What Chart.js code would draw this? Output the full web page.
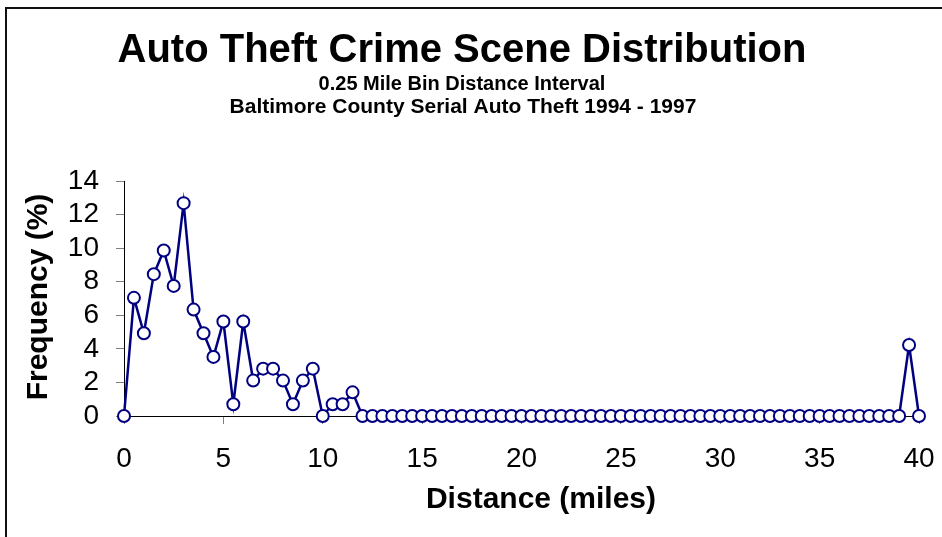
<!DOCTYPE html>
<html>
<head>
<meta charset="utf-8">
<title>Auto Theft Crime Scene Distribution</title>
<script src="https://cdn.jsdelivr.net/npm/chart.js@4"></script>
<style>
    html, body { margin: 0; padding: 0; background: #fff; overflow: hidden; }
    #wrap { position: relative; width: 942px; height: 537px; }
    #frame {
        position: absolute; left: 5px; top: 7px; width: 1000px; height: 600px;
        border-left: 2px solid #111; border-top: 2px solid #111;
    }
    #chart { position: absolute; left: 0; top: 0; }
</style>
</head>
<body>
<div id="wrap">
    <div id="frame"></div>
    <canvas id="chart" width="942" height="537"></canvas>
</div>
<script>
// distance of each bin (miles)
const distances = [
    0, 0.5, 1, 1.5, 2, 2.5, 3, 3.5, 4, 4.5, 5, 5.5, 6, 6.5, 7, 7.5, 8, 8.5, 9, 9.5,
    10, 10.5, 11, 11.5, 12, 12.5, 13, 13.5, 14, 14.5, 15, 15.5, 16, 16.5, 17, 17.5, 18, 18.5, 19, 19.5,
    20, 20.5, 21, 21.5, 22, 22.5, 23, 23.5, 24, 24.5, 25, 25.5, 26, 26.5, 27, 27.5, 28, 28.5, 29, 29.5,
    30, 30.5, 31, 31.5, 32, 32.5, 33, 33.5, 34, 34.5, 35, 35.5, 36, 36.5, 37, 37.5, 38, 38.5, 39, 39.5,
    40
];

// frequency (%) per bin
const frequency = [
    0, 7.04, 4.93, 8.45, 9.86, 7.75, 12.68, 6.34, 4.93, 3.52, 5.63, 0.70, 5.63, 2.11, 2.82, 2.82, 2.11, 0.70, 2.11, 2.82,
    0, 0.70, 0.70, 1.41, 0, 0, 0, 0, 0, 0, 0, 0, 0, 0, 0, 0, 0, 0, 0, 0,
    0, 0, 0, 0, 0, 0, 0, 0, 0, 0, 0, 0, 0, 0, 0, 0, 0, 0, 0, 0,
    0, 0, 0, 0, 0, 0, 0, 0, 0, 0, 0, 0, 0, 0, 0, 0, 0, 0, 0, 4.23,
    0
];

const xTicks = [0, 5, 10, 15, 20, 25, 30, 35, 40];
const yTicks = [0, 2, 4, 6, 8, 10, 12, 14];

const chartTitle = 'Auto Theft Crime Scene Distribution';
const subTitles = ['0.25 Mile Bin Distance Interval', 'Baltimore County Serial Auto Theft 1994 - 1997'];
const xTitle = 'Distance (miles)';
const yTitle = 'Frequency (%)';

const FONT = '"Liberation Sans", Arial, sans-serif';
const NAVY = '#000080';

// titles drawn by hand so they sit where the original has them
const textLayer = {
    id: 'textLayer',
    afterDraw(chart) {
        const ctx = chart.ctx;
        ctx.save();
        ctx.fillStyle = '#000';
        ctx.textAlign = 'center';
        ctx.textBaseline = 'alphabetic';

        ctx.font = 'bold 40px ' + FONT;
        ctx.fillText(chartTitle, 462, 62);

        ctx.font = 'bold 20px ' + FONT;
        ctx.fillText(subTitles[0], 462, 90);
        ctx.font = 'bold 21px ' + FONT;
        ctx.fillText(subTitles[1], 463, 113);

        ctx.font = 'bold 30px ' + FONT;
        ctx.fillText(xTitle, 541, 508);

        ctx.translate(47, 297);
        ctx.rotate(-Math.PI / 2);
        ctx.fillText(yTitle, 0, 0);
        ctx.restore();
    }
};

const ctx = document.getElementById('chart').getContext('2d');

new Chart(ctx, {
    type: 'line',
    data: {
        datasets: [{
            data: distances.map((d, i) => ({ x: d, y: frequency[i] })),
            borderColor: NAVY,
            borderWidth: 2.5,
            pointRadius: 6,
            pointBorderWidth: 2,
            pointBackgroundColor: '#fff',
            pointBorderColor: NAVY,
            tension: 0,
            clip: false
        }]
    },
    options: {
        responsive: false,
        animation: false,
        layout: { padding: { top: 181, left: 0, right: 23, bottom: 0 } },
        plugins: {
            legend: { display: false },
            tooltip: { enabled: false }
        },
        scales: {
            x: {
                type: 'linear',
                min: 0,
                max: 40,
                afterFit: scale => {
                    scale.height = 121;
                    scale.paddingLeft = 0;
                    scale.paddingRight = 0;
                },
                afterBuildTicks: scale => { scale.ticks = xTicks.map(v => ({ value: v })); },
                grid: { drawOnChartArea: false, tickLength: 8, color: '#808080' },
                border: { color: '#000', width: 1 },
                ticks: {
                    autoSkip: false,
                    maxRotation: 0,
                    padding: 18,
                    color: '#000',
                    font: { family: FONT, size: 28 }
                }
            },
            y: {
                min: 0,
                max: 14,
                afterFit: scale => { scale.width = 124; },
                afterBuildTicks: scale => { scale.ticks = yTicks.map(v => ({ value: v })); },
                grid: { drawOnChartArea: false, tickLength: 8, color: '#808080' },
                border: { color: '#000', width: 1 },
                ticks: {
                    autoSkip: false,
                    padding: 17,
                    color: '#000',
                    font: { family: FONT, size: 28 }
                }
            }
        }
    },
    plugins: [textLayer]
});
</script>
</body>
</html>
